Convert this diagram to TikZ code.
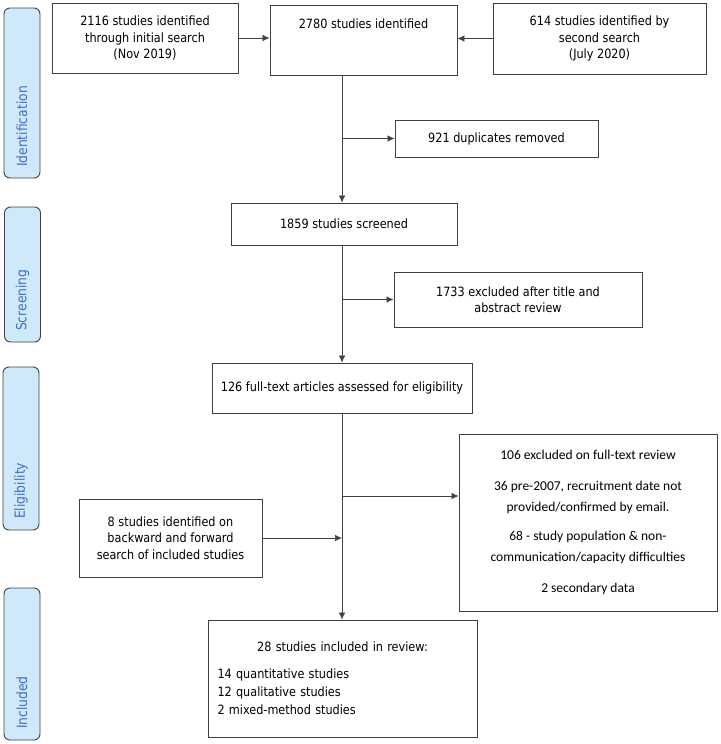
\documentclass[tikz,border=0pt]{standalone}
\usepackage{fontspec}
\setmainfont{DejaVu Sans}[FakeStretch=0.88]
\newfontfamily\calib{Carlito}
\usetikzlibrary{arrows.meta}
\definecolor{tabfill}{HTML}{CFE9FB}
\definecolor{tabblue}{HTML}{3F6FC6}
\definecolor{edge}{HTML}{404040}

\begin{document}
\begin{tikzpicture}[x=1pt,y=-1pt,
  box/.style={draw=edge,line width=0.9pt,inner sep=2pt,align=center,font=\fontsize{12.8}{16.5}\selectfont},
  tab/.style={draw=edge,fill=tabfill,line width=0.9pt,rounded corners=6pt,minimum width=36pt},
  tabtext/.style={rotate=90,anchor=west,text=tabblue,font=\fontsize{14}{16}\selectfont},
  arr/.style={draw=edge,line width=0.7pt,-{Latex[length=7pt,width=6.5pt]}}]
\useasboundingbox (0,0) rectangle (720,744);

\node[tab,minimum height=170pt](identtab) at (22,93) {};
\node[tabtext](identlbl) at ([yshift=8pt]identtab.south) {Identification};
\node[tab,minimum height=135pt](screentab) at (22.5,274.5) {};
\node[tabtext](screenlbl) at ([yshift=8pt]screentab.south) {Screening};
\node[tab,minimum height=163pt](eligtab) at (21,448.5) {};
\node[tabtext](eliglbl) at ([yshift=8pt]eligtab.south) {Eligibility};
\node[tab,minimum height=152pt](incltab) at (22,664) {};
\node[tabtext](incllbl) at ([yshift=8pt]incltab.south) {Included};

\node[box,minimum width=186pt,minimum height=70pt](initial) at (145,38) {2116 studies identified\\through initial search\\(Nov 2019)};
\node[box,minimum width=187pt,minimum height=70pt](pooled) at (363.5,40) {2780 studies identified\\~\\~};
\node[box,minimum width=213pt,minimum height=71pt](second) at (599.5,38.5) {614 studies identified by\\second search\\(July 2020)};
\node[box,minimum width=203pt,minimum height=37pt](dupl) at (496.5,138.5) {921 duplicates removed};
\node[box,minimum width=226pt,minimum height=42pt](screened) at (344,224) {1859 studies screened};
\node[box,minimum width=248pt,minimum height=55pt](titleexcl) at (518,299.5) {1733 excluded after title and\\abstract review};
\node[box,minimum width=260pt,minimum height=50pt](fulltext) at (342,388) {126 full-text articles assessed for eligibility};
\node[box,minimum width=258pt,minimum height=177pt,font=\calib\fontsize{13.5}{20.5}\selectfont](textexcl) at (588,522.5)
  {106 excluded on full-text review\\[11pt]36 pre-2007, recruitment date not\\provided/confirmed by email.\\[9pt]68 - study population \& non-\\communication/capacity difficulties\\[11pt]2 secondary data};
\node[box,minimum width=183pt,minimum height=78pt](backward) at (170.5,538) {8 studies identified on\\backward and forward\\search of included studies};
\node[box,minimum width=269pt,minimum height=117pt,text width=250pt,align=left,font=\fontsize{12.8}{18}\selectfont](included) at (342.5,678.5)
  {\makebox[\linewidth]{28 studies included in review:}\\[9pt]14 quantitative studies\\12 qualitative studies\\2 mixed-method studies\\[4pt]};

\coordinate (trunk) at (342,0);
\coordinate (exclin) at ([yshift=26.5pt]textexcl.west);
\draw[arr](initial.east) -- (initial.east -| pooled.west);
\draw[arr](second.west) -- (second.west -| pooled.east);
\draw[arr](pooled.south -| trunk) -- (screened.north -| trunk);
\draw[arr](dupl.west -| trunk) -- (dupl.west);
\draw[arr](screened.south -| trunk) -- (fulltext.north -| trunk);
\draw[arr](titleexcl.west -| trunk) -- (titleexcl.west);
\draw[arr](fulltext.south -| trunk) -- (included.north -| trunk);
\draw[arr](exclin -| trunk) -- (exclin);
\draw[arr](backward.east) -- (backward.east -| trunk);
\end{tikzpicture}
\end{document}
